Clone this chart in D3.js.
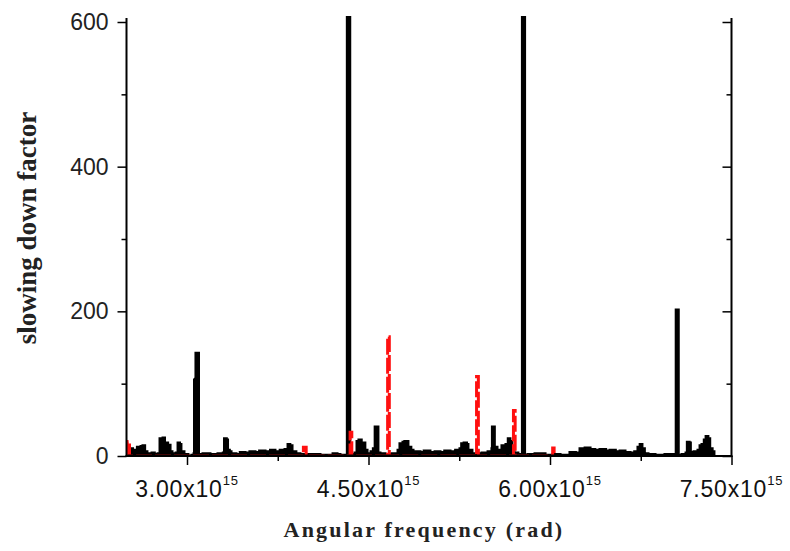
<!DOCTYPE html>
<html>
<head>
<meta charset="utf-8">
<script src="https://cdn.jsdelivr.net/npm/d3@7"></script>
<style>
  body { margin: 0; background: #fff; }
  svg { display: block; }
  .tick text { font-family: "Liberation Sans", Arial, sans-serif; }
</style>
</head>
<body>
<div id="graph_container"></div>
<script>
// frequency in units of 1e15 rad, slowing down factor
var blackPts = [
  [2.504, 0], [2.520, 4], [2.537, 10], [2.550, 3], [2.570, 8], [2.590, 12], [2.603, 5],
  [2.620, 13], [2.636, 14], [2.650, 6], [2.669, 3], [2.690, 2], [2.711, 4], [2.730, 2],
  [2.760, 3], [2.777, 24], [2.790, 20], [2.802, 25], [2.814, 12], [2.826, 18], [2.840, 15],
  [2.860, 6], [2.876, 3], [2.893, 2], [2.910, 4], [2.926, 18], [2.938, 16], [2.950, 6],
  [2.975, 2], [3.008, 0], [3.041, 1], [3.058, 3], [3.062, 105], [3.070, 106], [3.074, 142],
  [3.090, 142], [3.095, 2], [3.132, 3], [3.190, 2], [3.256, 3], [3.300, 4], [3.310, 24],
  [3.325, 22], [3.335, 8], [3.350, 6], [3.364, 3], [3.405, 2], [3.440, 5], [3.479, 4],
  [3.520, 6], [3.562, 5], [3.600, 7], [3.645, 6], [3.690, 8], [3.727, 6], [3.770, 8],
  [3.810, 9], [3.835, 16], [3.850, 14], [3.868, 6], [3.900, 3], [3.934, 2], [4.017, 2],
  [4.099, 1], [4.207, 3], [4.240, 2], [4.264, 1], [4.320, 1], [4.325, 640], [4.338, 640],
  [4.345, 2], [4.388, 4], [4.405, 20], [4.421, 22], [4.440, 16], [4.455, 18], [4.470, 8],
  [4.488, 3], [4.521, 6], [4.540, 10], [4.555, 40], [4.570, 40], [4.578, 4], [4.595, 3],
  [4.636, 2], [4.694, 3], [4.744, 8], [4.760, 17], [4.785, 19], [4.800, 20], [4.826, 12],
  [4.850, 8], [4.868, 6], [4.926, 5], [4.960, 7], [5.008, 5], [5.050, 6], [5.091, 5],
  [5.130, 7], [5.174, 6], [5.220, 8], [5.256, 10], [5.270, 17], [5.290, 18], [5.310, 16],
  [5.322, 8], [5.355, 3], [5.438, 4], [5.488, 6], [5.520, 10], [5.524, 40], [5.534, 40],
  [5.540, 12], [5.562, 8], [5.590, 6], [5.603, 14], [5.620, 10], [5.636, 16], [5.655, 24],
  [5.669, 20], [5.685, 8], [5.702, 4], [5.735, 2], [5.770, 1], [5.772, 640], [5.784, 640],
  [5.790, 1], [5.818, 2], [5.876, 3], [5.959, 1], [6.025, 2], [6.083, 1], [6.165, 5],
  [6.210, 4], [6.248, 10], [6.290, 11], [6.331, 9], [6.370, 8], [6.413, 9], [6.460, 7],
  [6.496, 8], [6.540, 6], [6.579, 7], [6.620, 5], [6.661, 4], [6.700, 6], [6.727, 12],
  [6.745, 16], [6.760, 10], [6.780, 3], [6.810, 2], [6.868, 1], [6.950, 2], [7.008, 2],
  [7.040, 1], [7.043, 202], [7.055, 202], [7.060, 1], [7.091, 2], [7.124, 4], [7.135, 19],
  [7.150, 18], [7.160, 5], [7.190, 6], [7.223, 8], [7.240, 14], [7.256, 16], [7.275, 22],
  [7.290, 27], [7.305, 24], [7.320, 10], [7.340, 6], [7.355, 0]];

var redPts = [
  [2.504, 0], [2.506, 20], [2.515, 20], [2.525, 0],
  [3.955, 0], [3.962, 12], [3.975, 12], [3.985, 0],
  [4.343, 0], [4.348, 33], [4.356, 33], [4.362, 0],
  [4.655, 0], [4.658, 165], [4.666, 165], [4.672, 0],
  [5.390, 0], [5.393, 110], [5.402, 110], [5.408, 0],
  [5.695, 0], [5.698, 63], [5.706, 63], [5.712, 0],
  [6.018, 0], [6.022, 11], [6.030, 11], [6.034, 0]];

var xTicks = [3.0, 4.5, 6.0, 7.5];
var xMinor = [3.75, 5.25, 6.75];
var xLabels = ["3.00", "4.50", "6.00", "7.50"];
var yTicks = [0, 200, 400, 600];
var yMinor = [100, 300, 500];

var W = 790, H = 551;
var mLeft = 126.5, mRight = 731.5, mTop = 22, mBottom = 456;

var vis = d3.select("#graph_container").append("svg")
    .attr("width", W).attr("height", H);

var x = d3.scaleLinear().domain([2.5, 7.5]).range([mLeft, mRight]);
var y = d3.scaleLinear().domain([0, 600]).range([mBottom, mTop]);

vis.append("clipPath").attr("id", "plotclip")
  .append("rect")
    .attr("x", mLeft).attr("y", 16)
    .attr("width", mRight - mLeft).attr("height", mBottom - 16);

// red curve is kept off the zero line, which stays black
vis.append("clipPath").attr("id", "redclip")
  .append("rect")
    .attr("x", mLeft).attr("y", 16)
    .attr("width", mRight - mLeft).attr("height", mBottom - 1.5 - 16);

var line = d3.line()
    .curve(d3.curveStepAfter)
    .x(function(d) { return x(d[0]); })
    .y(function(d) { return y(d[1]); });

var area = d3.area()
    .curve(d3.curveStepAfter)
    .x(function(d) { return x(d[0]); })
    .y0(y(0))
    .y1(function(d) { return y(d[1]); });

var plot = vis.append("g").attr("clip-path", "url(#plotclip)");

plot.append("path")
    .datum(blackPts)
    .attr("d", area)
    .attr("fill", "#000");

plot.append("path")
    .datum(blackPts)
    .attr("d", line)
    .attr("fill", "none")
    .attr("stroke", "#000")
    .attr("stroke-width", 3)
    .attr("stroke-linejoin", "miter")
    .attr("stroke-miterlimit", 2);

vis.append("g").attr("clip-path", "url(#redclip)")
  .append("path")
    .datum(redPts)
    .attr("d", line)
    .attr("fill", "none")
    .attr("stroke", "#ff1010")
    .attr("stroke-width", 3)
    .attr("stroke-dasharray", "16,3");

// axes
function styleAxis(g) {
  g.selectAll(".domain").attr("stroke", "#000").attr("stroke-width", 2);
  g.selectAll(".tick line").attr("stroke", "#000").attr("stroke-width", 1.5);
}

var yAxis = vis.append("g")
    .attr("transform", "translate(" + mLeft + ",0)")
    .call(d3.axisLeft(y).tickValues(yTicks).tickSize(9).tickPadding(9).tickFormat(d3.format("d")));
yAxis.call(styleAxis);
yAxis.selectAll(".tick text").attr("font-size", 23).attr("fill", "#222");
yAxis.select(".domain").attr("d", "M0," + (mBottom + 1) + "V" + (mTop - 4));

vis.append("g")
    .attr("transform", "translate(" + mLeft + ",0)")
    .call(d3.axisLeft(y).tickValues(yMinor).tickSize(5).tickFormat(""))
    .call(styleAxis)
    .select(".domain").remove();

var yRight = vis.append("g")
    .attr("transform", "translate(" + mRight + ",0)")
    .call(d3.axisLeft(y).tickValues(yTicks).tickSize(9).tickFormat(""));
yRight.call(styleAxis);
yRight.select(".domain").attr("d", "M0," + (mBottom + 1) + "V" + (mTop - 4));

vis.append("g")
    .attr("transform", "translate(" + mRight + ",0)")
    .call(d3.axisLeft(y).tickValues(yMinor).tickSize(5).tickFormat(""))
    .call(styleAxis)
    .select(".domain").remove();

var xAxis = vis.append("g")
    .attr("transform", "translate(0," + mBottom + ")")
    .call(d3.axisBottom(x).tickValues(xTicks).tickSize(9).tickFormat(""));
xAxis.call(styleAxis);
xAxis.select(".domain").attr("d", "M" + (mLeft - 1) + ",0H" + (mRight + 1));

vis.append("g")
    .attr("transform", "translate(0," + mBottom + ")")
    .call(d3.axisBottom(x).tickValues(xMinor).tickSize(5).tickFormat(""))
    .call(styleAxis)
    .select(".domain").remove();

// x tick labels with the power of ten
var lab = vis.selectAll("text.xlab")
    .data(xTicks)
    .enter().append("text")
    .attr("class", "xlab")
    .attr("x", function(d) { return x(d); })
    .attr("y", 497)
    .attr("text-anchor", "middle")
    .attr("font-family", "Liberation Sans, Arial, sans-serif")
    .attr("font-size", 23)
    .attr("letter-spacing", 0.8)
    .attr("fill", "#111");
lab.append("tspan").text(function(d, i) { return xLabels[i] + "x10"; });
lab.append("tspan").attr("font-size", 13).attr("dy", -12).text("15");

vis.append("text")
    .attr("x", 424).attr("y", 537)
    .attr("text-anchor", "middle")
    .attr("font-family", "Liberation Serif, Times New Roman, serif")
    .attr("font-weight", "bold")
    .attr("font-size", 22)
    .attr("letter-spacing", 2.2)
    .attr("fill", "#222")
    .text("Angular frequency (rad)");

vis.append("text")
    .attr("transform", "translate(36,228) rotate(-90)")
    .attr("text-anchor", "middle")
    .attr("font-family", "Liberation Serif, Times New Roman, serif")
    .attr("font-weight", "bold")
    .attr("font-size", 27)
    .attr("fill", "#222")
    .text("slowing down factor");
</script>
</body>
</html>
